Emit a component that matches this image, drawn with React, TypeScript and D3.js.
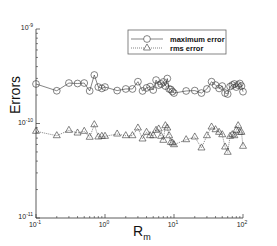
import React from "react";
import * as d3 from "d3";

// Rm samples and errors
const rm = [
	0.1, 0.2, 0.3, 0.4, 0.5, 0.6, 0.7, 0.8, 0.9, 1.0,
	1.5, 2, 2.5, 3, 3.5, 4, 4.5, 5, 5.5, 6, 6.5, 7, 7.5, 8, 8.5, 9, 9.5,
	10, 15, 20, 25, 30, 35, 40, 45, 50, 55, 60, 65, 70, 75, 80, 85, 90, 95, 100,
];
// maximum error, units of 1e-10
const maxErr = [
	2.62, 2.22, 2.68, 2.65, 2.68, 2.21, 3.26, 2.43, 2.35, 2.43,
	2.23, 2.32, 2.32, 2.77, 2.21, 2.38, 2.46, 2.26, 2.88, 2.55, 2.62, 2.75, 2.49, 2.99, 2.32, 2.29, 2.18,
	2.1, 2.21, 2.23, 2.1, 2.32, 2.77, 2.55, 2.35, 2.49, 2.1, 2.05, 2.46, 2.55, 2.62, 2.43, 2.55, 2.65, 2.49, 2.17,
];
// rms error, units of 1e-11
const rmsErr = [
	8.27, 7.43, 8.47, 7.93, 8.27, 7.15, 9.71, 7.2, 7.32, 7.32,
	7.74, 7.43, 7.43, 8.96, 6.86, 8.07, 7.43, 7.43, 8.47, 8.75, 7.32, 6.64, 9.48, 8.96, 7.43, 6.32, 6.22,
	5.97, 6.74, 7.2, 5.51, 7.43, 9.18, 8.6, 8.07, 7.61, 5.64, 4.96, 7.32, 7.61, 7.43, 8.47, 9.48, 8.07, 8.07, 5.74,
];

const xDecades = [-1, 0, 1, 2];
const yDecades = [-11, -10, -9];
const legendLabels = ["maximum error", "rms error"];

const W = 277;
const H = 246;
const font = "'Liberation Sans', Arial, Helvetica, sans-serif";
const ink = "#333";

export default function App() {
	const x = d3.scaleLog().domain([0.1, 100]).range([36, 243]);
	const y = d3.scaleLog().domain([1e-11, 1e-9]).range([218, 29]);

	const maxPts = rm.map((r, i) => [x(r), y(maxErr[i] * 1e-10)] as [number, number]);
	const rmsPts = rm.map((r, i) => [x(r), y(rmsErr[i] * 1e-11)] as [number, number]);
	const line = d3.line();

	const tri = (cx: number, cy: number, s = 7) => {
		const h = (s * Math.sqrt(3)) / 2;
		return `M${cx},${cy - (h * 2) / 3}L${cx + s / 2},${cy + h / 3}L${cx - s / 2},${cy + h / 3}Z`;
	};

	// minor ticks
	const xMinor: number[] = [];
	for (let d = -1; d < 2; d++) for (let k = 2; k <= 9; k++) xMinor.push(k * Math.pow(10, d));
	const yMinor: number[] = [];
	for (let d = -11; d < -9; d++) for (let k = 2; k <= 9; k++) yMinor.push(k * Math.pow(10, d));

	const [x0, x1] = x.range();
	const [y0, y1] = y.range();

	return (
		<svg width={W} height={H} style={{ position: "absolute", left: 0, top: 0, background: "#fff" }} fontFamily={font}>
			{/* axes */}
			<line x1={x0} y1={y0} x2={x1} y2={y0} stroke={ink} strokeWidth={0.8} />
			<line x1={x0} y1={y0} x2={x0} y2={y1} stroke={ink} strokeWidth={0.8} />
			{xMinor.map((v) => (
				<line key={"xm" + v} x1={x(v)} x2={x(v)} y1={y0} y2={y0 - 2} stroke={ink} strokeWidth={0.6} />
			))}
			{yMinor.map((v) => (
				<line key={"ym" + v} x1={x0} x2={x0 + 2} y1={y(v)} y2={y(v)} stroke={ink} strokeWidth={0.6} />
			))}
			{xDecades.map((d) => (
				<g key={"xt" + d}>
					<line x1={x(Math.pow(10, d))} x2={x(Math.pow(10, d))} y1={y0} y2={y0 - 4} stroke={ink} strokeWidth={0.7} />
					<text x={x(Math.pow(10, d)) - 1} y={y0 + 9} fontSize={7} textAnchor="middle" fill="#222">
						10<tspan fontSize={5} dy={-3}>{d}</tspan>
					</text>
				</g>
			))}
			{yDecades.map((d) => (
				<g key={"yt" + d}>
					<line x1={x0} x2={x0 + 4} y1={y(Math.pow(10, d))} y2={y(Math.pow(10, d))} stroke={ink} strokeWidth={0.7} />
					<text x={x0 - 3} y={y(Math.pow(10, d)) + 1} fontSize={7} textAnchor="end" fill="#222">
						10<tspan fontSize={5} dy={-3}>{d}</tspan>
					</text>
				</g>
			))}

			{/* axis titles */}
			<text transform="translate(20,95) rotate(-90)" fontSize={14} textAnchor="middle" fill="#111">
				Errors
			</text>
			<text x={133} y={236} fontSize={14} fill="#111">
				R<tspan fontSize={9} dy={4}>m</tspan>
			</text>

			{/* series */}
			<path d={line(maxPts) || ""} fill="none" stroke={ink} strokeWidth={0.6} />
			<path d={line(rmsPts) || ""} fill="none" stroke={ink} strokeWidth={0.6} strokeDasharray="1,1" />
			{maxPts.map(([cx, cy], i) => (
				<circle key={"c" + i} cx={cx} cy={cy} r={3.4} fill="none" stroke={ink} strokeWidth={0.6} />
			))}
			{rmsPts.map(([cx, cy], i) => (
				<path key={"t" + i} d={tri(cx, cy)} fill="none" stroke={ink} strokeWidth={0.6} />
			))}

			{/* legend */}
			<rect x={128} y={30} width={98} height={24} fill="#fff" stroke="#666" strokeWidth={0.8} />
			<line x1={131} x2={163} y1={39} y2={39} stroke={ink} strokeWidth={0.6} />
			<circle cx={147} cy={39} r={3.4} fill="#fff" stroke={ink} strokeWidth={0.6} />
			<line x1={131} x2={163} y1={48} y2={48} stroke={ink} strokeWidth={0.6} strokeDasharray="1,1" />
			<path d={tri(147, 48)} fill="#fff" stroke={ink} strokeWidth={0.6} />
			{legendLabels.map((t, i) => (
				<text key={t} x={170} y={42 + i * 9} fontSize={7.5} fontWeight="bold" fill="#111">
					{t}
				</text>
			))}
		</svg>
	);
}
